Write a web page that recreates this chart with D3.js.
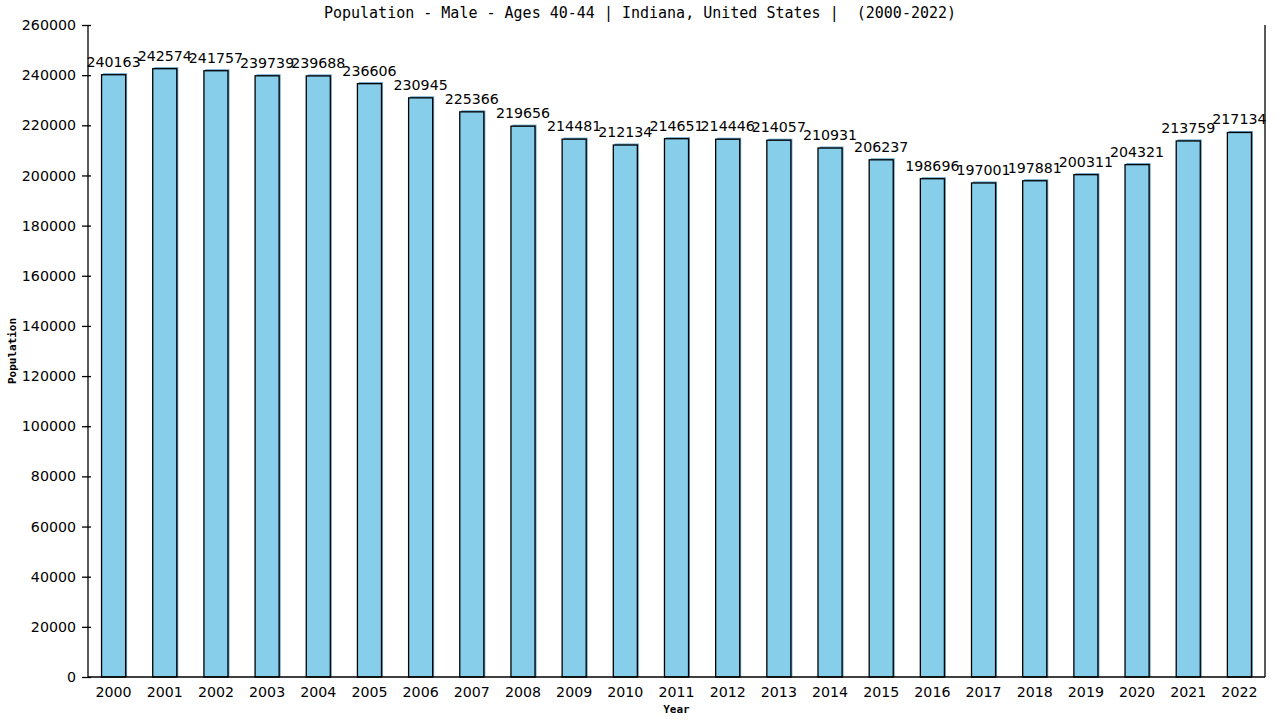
<!DOCTYPE html>
<html>
<head>
<meta charset="utf-8">
<script src="https://cdn.jsdelivr.net/npm/d3@7"></script>
<style>
  body { margin: 0; background: #fff; }
  svg { display: block; }
</style>
</head>
<body>
<div id="chart"></div>
<script>
var years = ["2000", "2001", "2002", "2003", "2004", "2005", "2006", "2007", "2008", "2009", "2010",
             "2011", "2012", "2013", "2014", "2015", "2016", "2017", "2018", "2019", "2020", "2021", "2022"];
var population = [240163, 242574, 241757, 239739, 239688, 236606, 230945, 225366, 219656, 214481, 212134,
                  214651, 214446, 214057, 210931, 206237, 198696, 197001, 197881, 200311, 204321, 213759, 217134];
var yTicks = [0, 20000, 40000, 60000, 80000, 100000, 120000, 140000, 160000, 180000, 200000,
              220000, 240000, 260000];

var W = 1280, H = 720;
var plotLeft = 88, plotRight = 1265, plotTop = 25, plotBottom = 677;
var monoFont = "'DejaVu Sans Mono', monospace";
var labelFont = "'DejaVu Sans', Verdana, sans-serif";
var labelSize = 14.2;

var svg = d3.select("#chart").append("svg")
    .attr("width", W)
    .attr("height", H);

var x = d3.scaleBand()
    .domain(years)
    .range([plotLeft, plotRight])
    .paddingInner(0.53)
    .paddingOuter(0.265);

var y = d3.scaleLinear()
    .domain([0, 260000])
    .range([plotBottom, plotTop]);

var data = years.map(function(d, i) { return { year: d, value: population[i] }; });

// bar shadow
svg.append("g").selectAll("rect")
    .data(data)
    .enter().append("rect")
    .attr("x", function(d) { return x(d.year) + 1.5; })
    .attr("y", function(d) { return y(d.value) - 1.5; })
    .attr("width", x.bandwidth())
    .attr("height", function(d) { return plotBottom - y(d.value) + 1.5; })
    .attr("fill", "#5b9ec6");

// bars
svg.append("g").selectAll("rect")
    .data(data)
    .enter().append("rect")
    .attr("x", function(d) { return x(d.year); })
    .attr("y", function(d) { return y(d.value); })
    .attr("width", x.bandwidth())
    .attr("height", function(d) { return plotBottom - y(d.value); })
    .attr("fill", "#87ceeb")
    .attr("stroke", "#000")
    .attr("stroke-width", 1.3);

// value labels
svg.append("g").selectAll("text")
    .data(data)
    .enter().append("text")
    .attr("x", function(d) { return x(d.year) + x.bandwidth() / 2; })
    .attr("y", function(d) { return y(d.value) - 8; })
    .attr("text-anchor", "middle")
    .attr("font-family", labelFont)
    .attr("font-size", labelSize)
    .attr("fill", "#000")
    .text(function(d) { return d.value; });

// y axis
var yAxis = svg.append("g")
    .attr("transform", "translate(" + plotLeft + ",0)")
    .call(d3.axisLeft(y).tickValues(yTicks).tickSize(6).tickPadding(6).tickFormat(d3.format("d")));
yAxis.select(".domain").attr("d", "M0," + plotTop + "V" + plotBottom).attr("stroke-width", 1.3);
yAxis.selectAll(".tick line").attr("x2", -6).attr("x1", 3).attr("stroke-width", 1.3);
yAxis.selectAll("text")
    .attr("font-family", labelFont)
    .attr("font-size", labelSize)
    .attr("fill", "#000");

// x axis
var xAxis = svg.append("g")
    .attr("transform", "translate(0," + plotBottom + ")")
    .call(d3.axisBottom(x).tickSize(0).tickPadding(10));
xAxis.select(".domain").attr("d", "M" + plotLeft + ",0H" + plotRight).attr("stroke-width", 1.3);
xAxis.selectAll("text")
    .attr("font-family", labelFont)
    .attr("font-size", labelSize)
    .attr("fill", "#000");

// right border
svg.append("line")
    .attr("x1", plotRight).attr("x2", plotRight)
    .attr("y1", plotTop).attr("y2", plotBottom)
    .attr("stroke", "#000")
    .attr("stroke-width", 1.3);

// title
svg.append("text")
    .attr("x", 640)
    .attr("y", 18)
    .attr("text-anchor", "middle")
    .attr("font-family", monoFont)
    .attr("font-size", 15)
    .attr("fill", "#000")
    .attr("xml:space", "preserve")
    .text("Population - Male - Ages 40-44 | Indiana, United States |  (2000-2022)");

// axis titles
svg.append("text")
    .attr("transform", "translate(16," + ((plotTop + plotBottom) / 2) + ") rotate(-90)")
    .attr("text-anchor", "middle")
    .attr("font-family", monoFont)
    .attr("font-weight", "bold")
    .attr("font-size", 11)
    .text("Population");

svg.append("text")
    .attr("x", (plotLeft + plotRight) / 2)
    .attr("y", 713)
    .attr("text-anchor", "middle")
    .attr("font-family", monoFont)
    .attr("font-weight", "bold")
    .attr("font-size", 11)
    .text("Year");
</script>
</body>
</html>
